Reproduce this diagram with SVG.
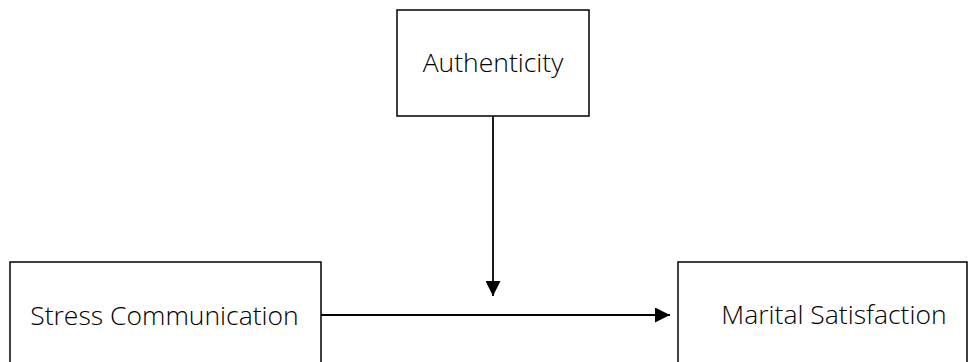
<svg xmlns="http://www.w3.org/2000/svg" width="977" height="362" viewBox="0 0 977 362">
<style>
.box{fill:#fff;stroke:#000;stroke-width:1.5}
.lbl{font-family:"Open Sans","Liberation Sans",sans-serif;font-weight:300;font-size:26.5px;fill:#000;text-anchor:middle}
.conn{stroke:#000;stroke-width:1.8;fill:none}
</style>
<defs>
<marker id="ah" viewBox="0 0 10 10" refX="10" refY="5" markerWidth="15" markerHeight="15" markerUnits="userSpaceOnUse" orient="auto">
<path d="M0,0 L10,5 L0,10 Z" fill="#000"/>
</marker>
</defs>
<rect width="977" height="362" fill="#fff"/>
<g id="authenticity">
<rect class="box" x="397" y="10" width="192" height="106"/>
<text class="lbl" x="493" y="72">Authenticity</text>
</g>
<g id="stress-communication">
<rect class="box" x="10" y="262" width="311" height="110"/>
<text class="lbl" x="164.5" y="324.5">Stress Communication</text>
</g>
<g id="marital-satisfaction">
<rect class="box" x="678" y="262" width="289" height="110"/>
<text class="lbl" x="834" y="324">Marital Satisfaction</text>
</g>
<g id="connectors">
<line class="conn" x1="493" y1="116" x2="493" y2="296" marker-end="url(#ah)"/>
<line class="conn" x1="321" y1="315" x2="670" y2="315" marker-end="url(#ah)"/>
</g>
</svg>
